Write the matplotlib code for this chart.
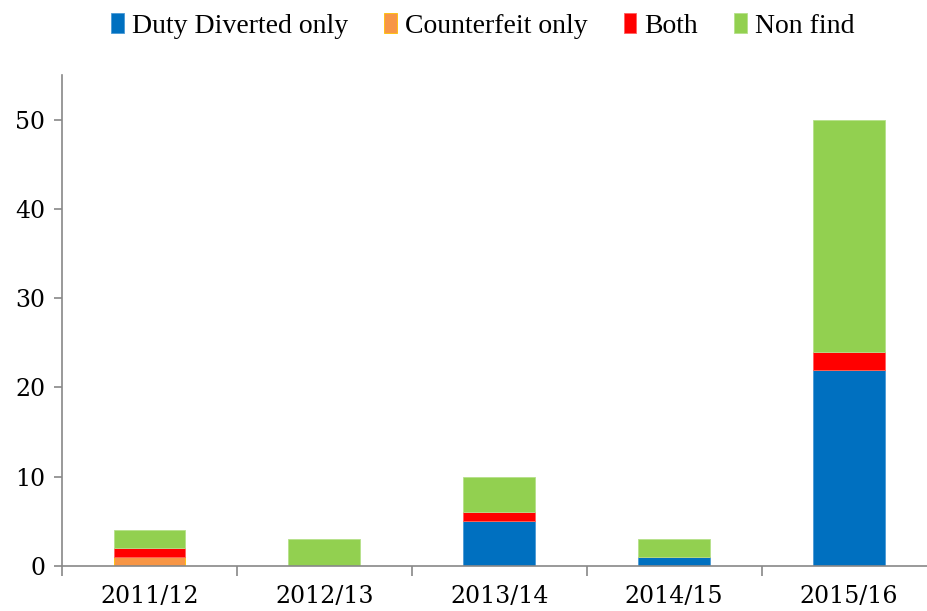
import numpy as np
import matplotlib
matplotlib.use("Agg")
import matplotlib.pyplot as plt

years = ["2011/12", "2012/13", "2013/14", "2014/15", "2015/16"]
duty_diverted = [0, 0, 5, 1, 22]
counterfeit = [1, 0, 0, 0, 0]
both = [1, 0, 1, 0, 2]
non_find = [2, 3, 4, 2, 26]

series = [
    ("Duty Diverted only", duty_diverted, "#0070C0", "#4a9ad6"),
    ("Counterfeit only", counterfeit, "#F79646", "#FFC000"),
    ("Both", both, "#FF0000", "#ff6060"),
    ("Non find", non_find, "#92D050", "#b5e08a"),
]

plt.rcParams["font.family"] = ["DejaVu Serif"]

fig = plt.figure(figsize=(9.27, 6.11), dpi=100)
ax = fig.add_axes([62 / 927, 1 - 566 / 611, (936.5 - 62) / 927, (566 - 75) / 611])

x = np.arange(len(years))
bottom = np.zeros(len(years))
for name, vals, color, edge in series:
    vals = np.array(vals, dtype=float)
    ax.bar(x, vals, 0.41, bottom=bottom, color=color, edgecolor=edge,
           linewidth=0.6, label=name)
    bottom += vals

ax.set_xlim(-0.5, len(years) - 0.5)
ax.set_ylim(0, 55)
ax.set_yticks([0, 10, 20, 30, 40, 50])
ax.set_xticks(x)
ax.set_xticklabels(years)
ax.set_xticks(np.arange(-0.5, len(years), 1), minor=True)
ax.tick_params(axis="x", which="major", length=0, labelsize=17, pad=14)
ax.tick_params(axis="x", which="minor", length=7, color="#888888", width=1.2)
ax.tick_params(axis="y", length=6, color="#888888", width=1.2, labelsize=17, pad=6)

for s in ["top", "right"]:
    ax.spines[s].set_visible(False)
for s in ["left", "bottom"]:
    ax.spines[s].set_color("#888888")
    ax.spines[s].set_linewidth(1.2)

fig.legend(loc="upper center", bbox_to_anchor=(0.521, 1.02), ncol=4,
           frameon=False, prop={"family": "Liberation Serif", "size": 20},
           handlelength=0.45, handleheight=0.75,
           handletextpad=0.3, columnspacing=1.3)

fig.savefig("out.png", dpi=100)
